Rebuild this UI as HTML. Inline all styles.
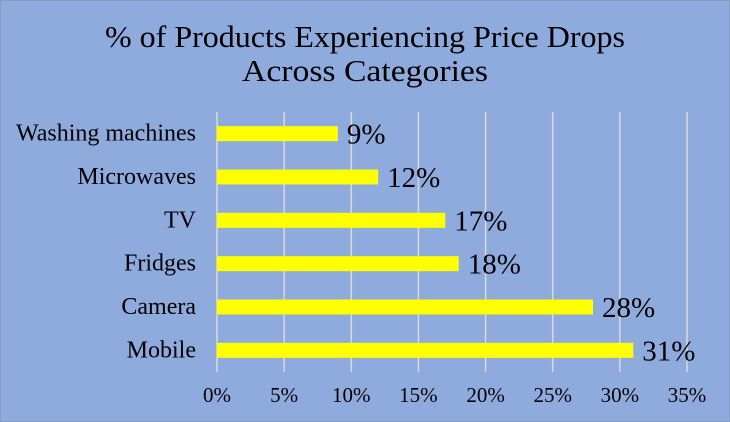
<!DOCTYPE html>
<html><head><meta charset="utf-8"><style>
body{margin:0;background:#8faadc;}
svg{display:block;}
svg text{font-family:"Liberation Serif","Times New Roman",serif;}
</style></head><body>
<svg width="730" height="422">
<rect x="0" y="0" width="730" height="422" fill="#8faadc" stroke="#7f8fa8"/>
<text x="365" y="47" text-anchor="middle" font-size="31" textLength="520" lengthAdjust="spacingAndGlyphs" font-family="Liberation Serif, serif">% of Products Experiencing Price Drops</text>
<text x="365" y="81" text-anchor="middle" font-size="31" textLength="246" lengthAdjust="spacingAndGlyphs" font-family="Liberation Serif, serif">Across Categories</text>
<g id="grid"></g><g id="bars"></g><g id="labels"></g>
</svg>
<script>
const categories=["Washing machines","Microwaves","TV","Fridges","Camera","Mobile"];
const values=[9,12,17,18,28,31];
const ticks=[0,5,10,15,20,25,30,35];
const tickLabels=["0%","5%","10%","15%","20%","25%","30%","35%"];
const x0=217,x1=687,yTop=112,yBot=372,maxV=35;
const xs=v=>x0+(v/maxV)*(x1-x0);
const band=(yBot-yTop)/categories.length;
const yc=i=>yTop+band*(i+0.5);
const NS="http://www.w3.org/2000/svg";
const g=document.getElementById('grid'),b=document.getElementById('bars'),l=document.getElementById('labels');
function mk(tag,attrs,parent,txt){const e=document.createElementNS(NS,tag);for(const k in attrs)e.setAttribute(k,attrs[k]);if(txt!==undefined)e.textContent=txt;parent.appendChild(e);return e;}
const FF='Liberation Serif, serif';
ticks.forEach((t,i)=>{
 const ln=mk('line',{x1:xs(t),x2:xs(t),y1:yTop,y2:yBot,stroke:'#d9d9d9','stroke-width':1.5},g);
 
 
 const tx=mk('text',{x:xs(t),y:402,'text-anchor':'middle','font-size':21,'font-family':FF},g,tickLabels[i]);
 
 
});
categories.forEach((c,i)=>{
 const r=mk('rect',{x:x0,y:yc(i)-7.5,width:xs(values[i])-x0,height:15,fill:'#ffff00'},b);
 
 
 const v=mk('text',{x:xs(values[i])+9,y:yc(i)+10,'font-size':29,'font-family':FF},l,values[i]+'%');
 
 
 const cl=mk('text',{x:196,y:yc(i)+7,'text-anchor':'end','font-size':24,'font-family':FF},l,c);
 
 
});
</script>
</body></html>
